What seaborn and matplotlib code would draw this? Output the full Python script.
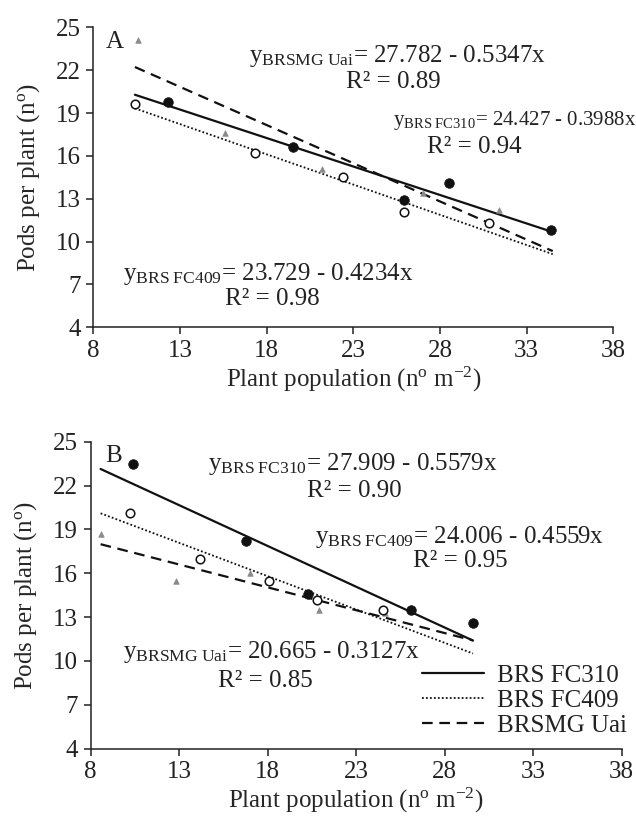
import numpy as np
import pandas as pd
import matplotlib
matplotlib.use("Agg")
import matplotlib.pyplot as plt
import seaborn as sns

# ---------------- data ----------------
# Panel A
a_fc310_x = [12.3, 19.5, 25.9, 28.5, 34.4]
a_fc310_y = [19.8, 16.6, 12.9, 14.1, 10.8]
a_fc409_x = [10.4, 17.3, 22.4, 25.9, 30.8]
a_fc409_y = [19.6, 16.2, 14.5, 12.1, 11.3]
a_uai_x = [10.6, 15.6, 21.2, 27.0, 31.4]
a_uai_y = [24.1, 17.6, 15.1, 13.4, 12.2]
a_intercept = {"BRS FC310": 24.427, "BRS FC409": 23.729, "BRSMG Uai": 27.782}
a_slope = {"BRS FC310": -0.3988, "BRS FC409": -0.4234, "BRSMG Uai": -0.5347}
a_r2 = {"BRS FC310": "0.94", "BRS FC409": "0.98", "BRSMG Uai": "0.89"}
a_xrange = [10.4, 34.5]

# Panel B
b_fc310_x = [10.4, 16.8, 20.3, 26.1, 29.6]
b_fc310_y = [23.5, 18.2, 14.6, 13.5, 12.6]
b_fc409_x = [10.2, 14.2, 18.1, 20.8, 24.5]
b_fc409_y = [20.1, 17.0, 15.5, 14.2, 13.5]
b_uai_x = [8.6, 12.8, 17.0, 20.9, 24.6]
b_uai_y = [18.7, 15.5, 16.0, 13.5, 13.3]
b_intercept = {"BRS FC310": 27.909, "BRS FC409": 24.006, "BRSMG Uai": 20.665}
b_slope = {"BRS FC310": -0.5579, "BRS FC409": -0.4559, "BRSMG Uai": -0.3127}
b_r2 = {"BRS FC310": "0.90", "BRS FC409": "0.95", "BRSMG Uai": "0.85"}
b_xrange = [8.56, 29.6]

cultivars = ["BRS FC310", "BRS FC409", "BRSMG Uai"]
x_ticks = [8, 13, 18, 23, 28, 33, 38]
y_ticks = [4, 7, 10, 13, 16, 19, 22, 25]

# ---------------- style ----------------
sns.set_theme(style="ticks")
plt.rcParams["font.family"] = ["Liberation Serif", "DejaVu Serif"]
plt.rcParams["mathtext.fontset"] = "custom"
plt.rcParams["mathtext.rm"] = "Liberation Serif"
plt.rcParams["mathtext.it"] = "Liberation Serif:italic"
plt.rcParams["text.color"] = "#222222"

FS = 18
line_styles = {"BRS FC310": "-", "BRS FC409": (0, (1, 1.2)), "BRSMG Uai": (0, (4.8, 3))}
line_widths = {"BRS FC310": 1.6, "BRS FC409": 1.3, "BRSMG Uai": 1.6}

fig = plt.figure(figsize=(6.36, 8.21), dpi=100)
W, H = 636, 821
axA = fig.add_axes([93.3 / W, 1 - 327.3 / H, 520.1 / W, 300 / H])
axB = fig.add_axes([90.7 / W, 1 - 748.7 / H, 531 / W, 307 / H])


def draw_panel(ax, pts, intercepts, slopes, xr, with_label=False):
    (x1, y1), (x2, y2), (x3, y3) = pts
    d1 = pd.DataFrame({"x": x1, "y": y1})
    d2 = pd.DataFrame({"x": x2, "y": y2})
    d3 = pd.DataFrame({"x": x3, "y": y3})
    sns.scatterplot(data=d3, x="x", y="y", ax=ax, marker="^", s=16,
                    color="#8a8a8a", edgecolor="#8a8a8a", linewidth=0.5, zorder=3)
    sns.scatterplot(data=d2, x="x", y="y", ax=ax, marker="o", s=38,
                    facecolor="white", edgecolor="#111111", linewidth=1.1, zorder=4)
    sns.scatterplot(data=d1, x="x", y="y", ax=ax, marker="o", s=48,
                    color="#111111", edgecolor="#111111", linewidth=0.5, zorder=4)
    for c in cultivars:
        xs = np.array(xr)
        dl = pd.DataFrame({"x": xs, "y": intercepts[c] + slopes[c] * xs})
        sns.lineplot(data=dl, x="x", y="y", ax=ax, color="#111111",
                     linestyle=line_styles[c], linewidth=line_widths[c],
                     label=c if with_label else None, legend=False, zorder=2)
    ax.set_xlim(8, 38)
    ax.set_ylim(4, 25)
    ax.set_xticks(x_ticks)
    ax.set_yticks(y_ticks)
    ax.tick_params(direction="out", length=5, width=1.1, labelsize=FS,
                   colors="#222222", pad=4)
    for s in ["top", "right"]:
        ax.spines[s].set_visible(False)
    for s in ["left", "bottom"]:
        ax.spines[s].set_linewidth(1.1)
        ax.spines[s].set_color("#222222")
    ax.set_xlabel(r"Plant population (n$^{\mathrm{o}}$ m$^{-2}$)", fontsize=FS, labelpad=2)
    ax.set_ylabel(r"Pods per plant (n$^{\mathrm{o}}$)", fontsize=FS, labelpad=10)


draw_panel(axA, [(a_fc310_x, a_fc310_y), (a_fc409_x, a_fc409_y), (a_uai_x, a_uai_y)],
           a_intercept, a_slope, a_xrange)
draw_panel(axB, [(b_fc310_x, b_fc310_y), (b_fc409_x, b_fc409_y), (b_uai_x, b_uai_y)],
           b_intercept, b_slope, b_xrange, with_label=True)


def eq_text(ax, x, y, name, a, b, fs=FS):
    sub = name.replace(" ", r"\ ")
    sign = "-" if b < 0 else "+"
    ax.text(x, y, r"$\mathrm{y}_{\mathrm{" + sub + "}}$" + f"= {a:.3f} {sign} {abs(b):.4f}x",
            fontsize=fs, ha="left", va="baseline")


# Panel A annotations
axA.text(8.7, 23.55, "A", fontsize=FS, ha="left", va="baseline")
eq_text(axA, 17.0, 22.6, "BRSMG Uai", a_intercept["BRSMG Uai"], a_slope["BRSMG Uai"])
axA.text(22.6, 20.75, "R² = " + a_r2["BRSMG Uai"], fontsize=FS, ha="left", va="baseline")
eq_text(axA, 25.3, 18.15, "BRS FC310", a_intercept["BRS FC310"], a_slope["BRS FC310"], fs=15)
axA.text(27.25, 16.2, "R² = " + a_r2["BRS FC310"], fontsize=FS, ha="left", va="baseline")
eq_text(axA, 9.7, 7.3, "BRS FC409", a_intercept["BRS FC409"], a_slope["BRS FC409"])
axA.text(15.6, 5.55, "R² = " + a_r2["BRS FC409"], fontsize=FS, ha="left", va="baseline")

# Panel B annotations
axB.text(8.8, 23.6, "B", fontsize=FS, ha="left", va="baseline")
eq_text(axB, 14.6, 23.05, "BRS FC310", b_intercept["BRS FC310"], b_slope["BRS FC310"])
axB.text(20.2, 21.25, "R² = " + b_r2["BRS FC310"], fontsize=FS, ha="left", va="baseline")
eq_text(axB, 20.7, 18.05, "BRS FC409", b_intercept["BRS FC409"], b_slope["BRS FC409"])
axB.text(26.2, 16.45, "R² = " + b_r2["BRS FC409"], fontsize=FS, ha="left", va="baseline")
eq_text(axB, 9.8, 10.2, "BRSMG Uai", b_intercept["BRSMG Uai"], b_slope["BRSMG Uai"])
axB.text(15.2, 8.25, "R² = " + b_r2["BRSMG Uai"], fontsize=FS, ha="left", va="baseline")

leg = axB.legend(loc="upper left", bbox_to_anchor=(421.7 / W, 1 - 664.0 / H),
                 bbox_transform=fig.transFigure, frameon=False, fontsize=FS,
                 handlelength=2.5, handletextpad=0.5, labelspacing=0.1,
                 borderpad=0, borderaxespad=0)

fig.savefig("out.png", dpi=100, facecolor="white")
